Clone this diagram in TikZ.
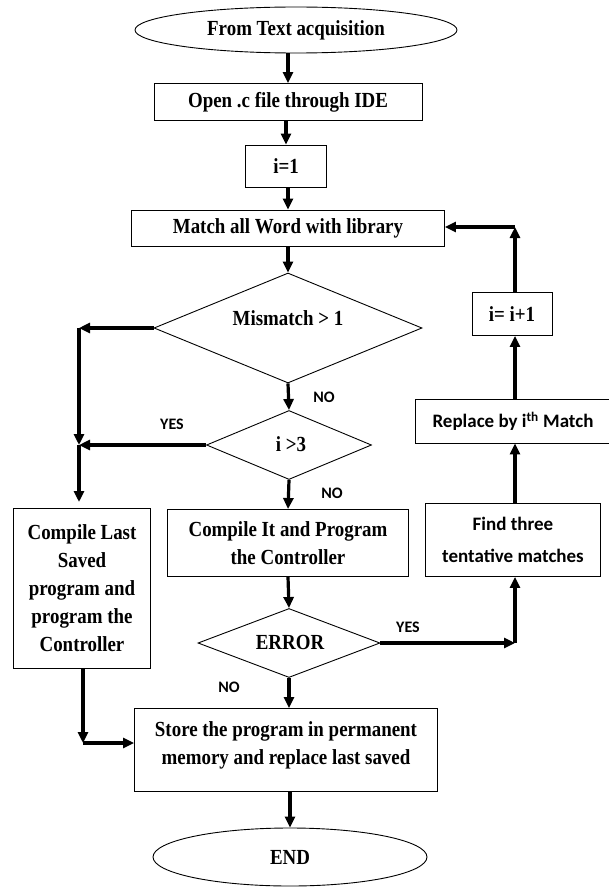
\documentclass[tikz,border=0pt]{standalone}
\usepackage{fontspec}
\setmainfont{Liberation Serif}[FakeStretch=0.88]
\newfontfamily\calib{Carlito}
\usetikzlibrary{shapes.geometric,arrows.meta}

\begin{document}
\begin{tikzpicture}[x=1pt,y=-1pt,
  box/.style={draw, line width=0.9pt, inner sep=0pt, align=center,
    font=\bfseries\fontsize{21.5}{28}\selectfont},
  sbox/.style={box, font=\calib\bfseries\fontsize{19}{32}\selectfont},
  term/.style={ellipse, draw, line width=0.9pt, inner sep=0pt,
    font=\bfseries\fontsize{21.5}{24}\selectfont},
  dia/.style={diamond, draw, line width=0.9pt, inner sep=0pt},
  txt/.style={inner sep=0pt, align=center, font=\bfseries\fontsize{21.5}{28}\selectfont},
  lab/.style={inner sep=0pt, font=\calib\bfseries\fontsize{16}{16}\selectfont},
  flow/.style={line width=3.2pt, -{Triangle[length=11pt,width=10pt]}}]
\useasboundingbox (0,0) rectangle (609,888);

% terminals and process boxes
\node[term, minimum width=322pt, minimum height=46pt] (start) at (296,30) {From Text acquisition};
\node[box, minimum width=268pt, minimum height=37pt] (open) at (288,102) {Open .c file through IDE};
\node[box, minimum width=81pt, minimum height=42pt] (ione) at (286,166) {i=1};
\node[box, minimum width=313pt, minimum height=36pt] (match) at (288,228) {Match all Word with library};

% decisions
\node[dia, minimum width=268pt, minimum height=110pt] (mis) at (288,328) {};
\node[txt] at (288,318) {Mismatch > 1};
\node[dia, minimum width=165pt, minimum height=69pt] (ithree) at (289,445) {};
\node[txt] at (291,444) {i >3};

\node[box, minimum width=137pt, minimum height=160pt] (last) at (82,588)
  {Compile Last\\Saved\\program and\\program the\\Controller};
\node[box, minimum width=241pt, minimum height=67pt] (comp) at (288,543)
  {Compile It and Program\\the Controller};

\node[dia, minimum width=182pt, minimum height=69pt] (err) at (289,643) {};
\node[txt] at (290,642) {ERROR};

\node[box, minimum width=303pt, minimum height=83pt] (store) at (286,750) {};
\node[txt] at (286,745) {Store the program in permanent\\memory and replace last saved};

\node[term, minimum width=274pt, minimum height=58pt] (stop) at (290,857) {END};

% right-hand loop
\node[sbox, minimum width=175pt, minimum height=73pt] (find) at (513,540)
  {Find three\\tentative matches};
\node[sbox, minimum width=196pt, minimum height=44pt] (repl) at (513,421)
  {Replace by i\textsuperscript{th} Match};
\node[box, minimum width=80pt, minimum height=43pt] (inc) at (512,314) {i= i+1};

% junction points
\coordinate (jtop) at (79,328);
\coordinate (jyes) at (79,445);
\coordinate (jlast) at (79,502);
\coordinate (jbot) at (83,743);
\coordinate (jerr) at (515,643);
\coordinate (jloop) at (515,227);

% main column
\draw[flow] (open.north |- start.south) -- (open.north);
\draw[flow] (ione.north |- open.south) -- (ione.north);
\draw[flow] (match.north |- ione.south) -- (match.north);
\draw[flow] (match.south) -- (mis.north);
\draw[flow] (mis.south) -- (ithree.north);
\draw[flow] (ithree.south) -- (comp.north);
\draw[flow] (comp.south) -- (err.north);
\draw[flow] (err.south) -- (err.south |- store.north);
\draw[flow] (stop.north |- store.south) -- (stop.north);

% left branch
\draw[flow] (mis.west) -- (jtop);
\draw[flow] (jtop) -- (jyes);
\draw[flow] (ithree.west) -- (jyes);
\draw[flow] (jyes) -- (jlast);
\draw[flow] (jbot |- last.south) -- (jbot);
\draw[flow] (jbot) -- (jbot -| store.west);

% right loop
\draw[flow] (err.east) -- (jerr);
\draw[flow] (jerr) -- (jerr |- find.south);
\draw[flow] (jerr |- find.north) -- (jerr |- repl.south);
\draw[flow] (jerr |- repl.north) -- (jerr |- inc.south);
\draw[flow] (jerr |- inc.north) -- (jloop);
\draw[flow] (jloop) -- (jloop -| match.east);

% branch labels
\node[lab] at (324,397) {NO};
\node[lab] at (172,424) {YES};
\node[lab] at (332,493) {NO};
\node[lab] at (408,627) {YES};
\node[lab] at (229,687) {NO};
\end{tikzpicture}
\end{document}
